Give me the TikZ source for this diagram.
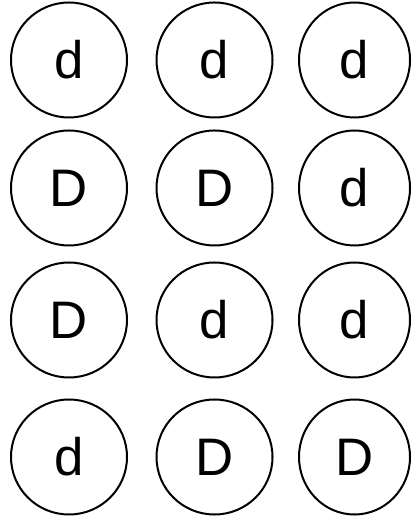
\documentclass[tikz,border=0pt]{standalone}
\usepackage{fontspec}
\setmainfont{Liberation Sans}
\usetikzlibrary{shapes.geometric}
\begin{document}
\begin{tikzpicture}[x=1bp,y=1bp,
  allele/.style={ellipse,draw=black,line width=2bp,inner sep=0pt,
    minimum width=116bp,minimum height=115bp,
    font=\fontsize{53}{60}\selectfont},
  narrow/.style={minimum width=111bp}]
\useasboundingbox (0,0) rectangle (419,517);
% rows (y from bottom): 457, 329, 197, 60
\node[allele] (a11) at (69,457) {d};
\node[allele] (a12) at (214.5,457) {d};
\node[allele,narrow] (a13) at (354.5,457) {d};
\node[allele] (a21) at (69,329) {D};
\node[allele] (a22) at (214.5,329) {D};
\node[allele,narrow] (a23) at (354.5,329) {d};
\node[allele] (a31) at (69,197) {D};
\node[allele] (a32) at (214.5,197) {d};
\node[allele,narrow] (a33) at (354.5,197) {d};
\node[allele] (a41) at (69,60) {d};
\node[allele] (a42) at (214.5,60) {D};
\node[allele,narrow] (a43) at (354.5,60) {D};
\end{tikzpicture}
\end{document}
